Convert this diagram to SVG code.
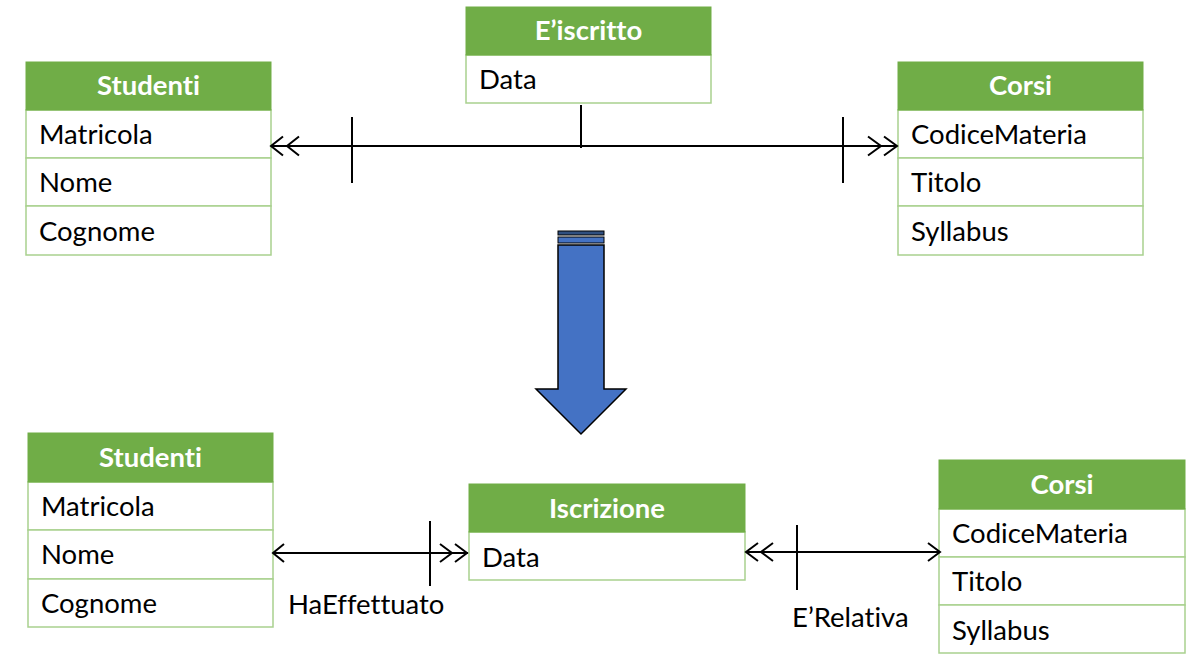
<svg xmlns="http://www.w3.org/2000/svg" width="1200" height="669" viewBox="0 0 1200 669">
<style>
.hd{fill:#70AD47;stroke:#70AD47;stroke-width:1}
.row{fill:#fff;stroke:#A9D18E;stroke-width:1.5}
.ht{font-family:Lato,"Liberation Sans",sans-serif;font-size:27.5px;font-weight:bold;fill:#fff;text-anchor:middle;font-variant-ligatures:none}
.rt{font-family:Lato,"Liberation Sans",sans-serif;font-size:27.5px;fill:#000;font-variant-ligatures:none}
.ln{fill:none;stroke:#000;stroke-width:2}
.ar{fill:none;stroke:#000;stroke-width:2;stroke-linejoin:miter}
</style>
<rect width="1200" height="669" fill="#fff"/>
<g id="studenti1">
<rect class="row" x="26" y="110" width="245" height="48"/>
<rect class="row" x="26" y="158" width="245" height="48"/>
<rect class="row" x="26" y="206" width="245" height="49"/>
<rect class="hd" x="26" y="62" width="245" height="48"/>
<text class="ht" x="148.5" y="95">Studenti</text>
<text class="rt" x="39" y="144">Matricola</text>
<text class="rt" x="39" y="192">Nome</text>
<text class="rt" x="39" y="241">Cognome</text>
</g>
<g id="eiscritto">
<rect class="row" x="466" y="55" width="245" height="48"/>
<rect class="hd" x="466" y="7" width="245" height="48"/>
<text class="ht" x="588.5" y="40">E’iscritto</text>
<text class="rt" x="479" y="89">Data</text>
</g>
<g id="corsi1">
<rect class="row" x="898" y="110" width="245" height="48"/>
<rect class="row" x="898" y="158" width="245" height="48"/>
<rect class="row" x="898" y="206" width="245" height="49"/>
<rect class="hd" x="898" y="62" width="245" height="48"/>
<text class="ht" x="1020.5" y="95">Corsi</text>
<text class="rt" x="911" y="144">CodiceMateria</text>
<text class="rt" x="911" y="192">Titolo</text>
<text class="rt" x="911" y="241">Syllabus</text>
</g>
<g id="freccia">
<rect x="558" y="231" width="46" height="4" fill="#2F4F80" stroke="#000" stroke-width="1"/>
<rect x="558" y="237" width="46" height="6" fill="#4472C4" stroke="#000" stroke-width="1"/>
<path d="M558,245 L604,245 L604,389 L626,389 L581,434 L536,389 L558,389 Z" fill="#4472C4" stroke="#000" stroke-width="1.5"/>
</g>
<g id="studenti2">
<rect class="row" x="28" y="482" width="245" height="48"/>
<rect class="row" x="28" y="530" width="245" height="49"/>
<rect class="row" x="28" y="579" width="245" height="48"/>
<rect class="hd" x="28" y="433" width="245" height="49"/>
<text class="ht" x="150.5" y="467">Studenti</text>
<text class="rt" x="41" y="516">Matricola</text>
<text class="rt" x="41" y="564">Nome</text>
<text class="rt" x="41" y="613">Cognome</text>
</g>
<g id="iscrizione">
<rect class="row" x="469" y="532" width="276" height="48"/>
<rect class="hd" x="469" y="484" width="276" height="48"/>
<text class="ht" x="607" y="518">Iscrizione</text>
<text class="rt" x="482" y="567">Data</text>
</g>
<g id="corsi2">
<rect class="row" x="939" y="509" width="246" height="48"/>
<rect class="row" x="939" y="557" width="246" height="48"/>
<rect class="row" x="939" y="605" width="246" height="48"/>
<rect class="hd" x="939" y="460" width="246" height="49"/>
<text class="ht" x="1062" y="494">Corsi</text>
<text class="rt" x="952" y="543">CodiceMateria</text>
<text class="rt" x="952" y="591">Titolo</text>
<text class="rt" x="952" y="640">Syllabus</text>
</g>
<g id="connettori">
<line class="ln" x1="271" y1="146" x2="897" y2="146"/>
<line class="ln" x1="352" y1="117" x2="352" y2="183"/>
<line class="ln" x1="843" y1="117" x2="843" y2="183"/>
<line class="ln" x1="581" y1="105" x2="581" y2="148"/>
<path class="ar" d="M283,136.5 L271,146 L283,155.5 M299,136.5 L287,146 L299,155.5"/>
<path class="ar" d="M868,136.5 L881,146 L868,155.5 M884,136.5 L897,146 L884,155.5"/>
<line class="ln" x1="273" y1="553" x2="468" y2="553"/>
<line class="ln" x1="430" y1="521" x2="430" y2="586"/>
<path class="ar" d="M284,544 L273,553 L284,562"/>
<path class="ar" d="M440,544 L452,553 L440,562 M455,544 L467,553 L455,562"/>
<line class="ln" x1="746" y1="552" x2="940" y2="552"/>
<line class="ln" x1="797" y1="525" x2="797" y2="590"/>
<path class="ar" d="M758,543 L746,552 L758,561 M773,543 L761,552 L773,561"/>
<path class="ar" d="M928,543 L940,552 L928,561"/>
<text class="rt" x="288" y="614">HaEffettuato</text>
<text class="rt" x="792" y="627">E’Relativa</text>
</g>
</svg>
